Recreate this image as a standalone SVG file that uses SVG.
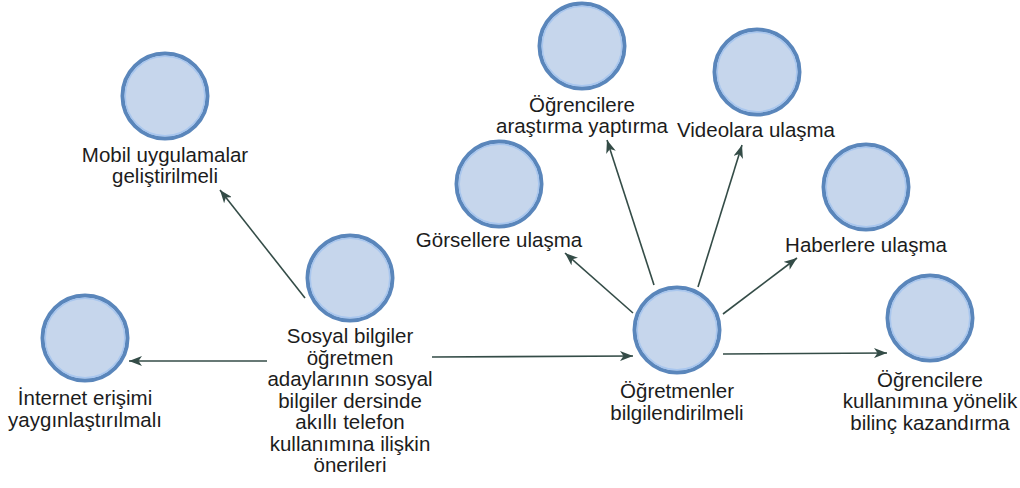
<svg xmlns="http://www.w3.org/2000/svg" width="1020" height="488" viewBox="0 0 1020 488">
  <style>
    .c { fill: #c6d6ec; stroke: #5a86bb; stroke-width: 4; }
    .ci { fill: none; stroke: #a8c6ee; stroke-width: 1.5; }
    .t { font-family: "Liberation Sans", Arial, sans-serif; font-size: 20.5px; fill: #1c1c1c; text-anchor: middle; }
    .e { stroke: #344c47; stroke-width: 1.6; fill: none; marker-end: url(#ah); }
  </style>
  <defs>
    <marker id="ah" markerUnits="userSpaceOnUse" markerWidth="14" markerHeight="10" refX="13" refY="5" orient="auto">
      <path d="M0,0 L13,5 L0,10 L3.5,5 Z" fill="#344c47"/>
    </marker>
  </defs>
  <rect width="1020" height="488" fill="#ffffff"/>
  <g id="connectors">
    <line class="e" x1="267" y1="361" x2="129" y2="361"/>
    <line class="e" x1="305" y1="298" x2="220" y2="190"/>
    <line class="e" x1="432" y1="357" x2="633" y2="356"/>
    <line class="e" x1="723" y1="354" x2="887" y2="353"/>
    <line class="e" x1="723" y1="314" x2="797" y2="258"/>
    <line class="e" x1="698" y1="287" x2="742" y2="145"/>
    <line class="e" x1="654" y1="285" x2="607" y2="140"/>
    <line class="e" x1="633" y1="313" x2="565" y2="253"/>
  </g>
  <g id="n-merkez">
    <circle class="c" cx="350" cy="278" r="42.5"/>
    <circle class="ci" cx="350" cy="278" r="39.8"/>
    <text class="t" x="350" y="343">Sosyal bilgiler</text>
    <text class="t" x="350" y="365">öğretmen</text>
    <text class="t" x="350" y="386">adaylarının sosyal</text>
    <text class="t" x="350" y="408">bilgiler dersinde</text>
    <text class="t" x="350" y="429">akıllı telefon</text>
    <text class="t" x="350" y="451">kullanımına ilişkin</text>
    <text class="t" x="350" y="472">önerileri</text>
  </g>
  <g id="n-internet">
    <circle class="c" cx="85" cy="338" r="42.5"/>
    <circle class="ci" cx="85" cy="338" r="39.8"/>
    <text class="t" x="85" y="405">İnternet erişimi</text>
    <text class="t" x="85" y="427">yaygınlaştırılmalı</text>
  </g>
  <g id="n-mobil">
    <circle class="c" cx="165" cy="96" r="42.5"/>
    <circle class="ci" cx="165" cy="96" r="39.8"/>
    <text class="t" x="165" y="162">Mobil uygulamalar</text>
    <text class="t" x="165" y="183">geliştirilmeli</text>
  </g>
  <g id="n-ogretmenler">
    <circle class="c" cx="677" cy="330" r="42.5"/>
    <circle class="ci" cx="677" cy="330" r="39.8"/>
    <text class="t" x="677" y="398">Öğretmenler</text>
    <text class="t" x="677" y="420">bilgilendirilmeli</text>
  </g>
  <g id="n-gorsellere">
    <circle class="c" cx="499" cy="184" r="42.5"/>
    <circle class="ci" cx="499" cy="184" r="39.8"/>
    <text class="t" x="499" y="247">Görsellere ulaşma</text>
  </g>
  <g id="n-arastirma">
    <circle class="c" cx="582" cy="46" r="42.5"/>
    <circle class="ci" cx="582" cy="46" r="39.8"/>
    <text class="t" x="582" y="112">Öğrencilere</text>
    <text class="t" x="582" y="133">araştırma yaptırma</text>
  </g>
  <g id="n-videolara">
    <circle class="c" cx="757" cy="72" r="42.5"/>
    <circle class="ci" cx="757" cy="72" r="39.8"/>
    <text class="t" x="756" y="137">Videolara ulaşma</text>
  </g>
  <g id="n-haberlere">
    <circle class="c" cx="866" cy="187" r="42.5"/>
    <circle class="ci" cx="866" cy="187" r="39.8"/>
    <text class="t" x="866" y="252">Haberlere ulaşma</text>
  </g>
  <g id="n-bilinc">
    <circle class="c" cx="930" cy="318" r="42.5"/>
    <circle class="ci" cx="930" cy="318" r="39.8"/>
    <text class="t" x="930" y="387">Öğrencilere</text>
    <text class="t" x="930" y="408">kullanımına yönelik</text>
    <text class="t" x="930" y="430">bilinç kazandırma</text>
  </g>
</svg>
